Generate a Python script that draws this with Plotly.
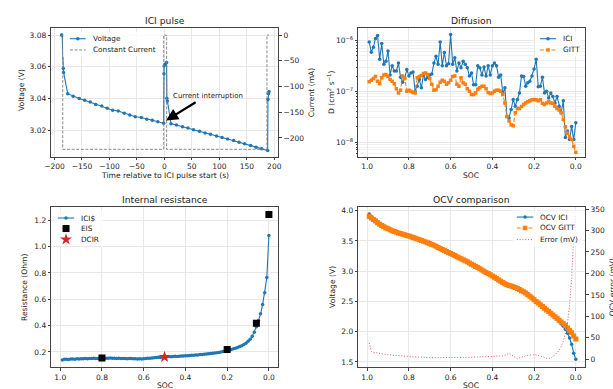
import plotly.graph_objects as go

W, H = 613, 389

# ---------------- data ----------------
# ICI pulse: voltage trace and applied current
T_PULSE = [-187, -186, -184, -183.5,
           -176, -166, -155, -145, -135, -125, -114, -104, -94, -84, -73, -63, -53, -42, -32, -22, -12, -1.3,
           -0.8, -0.5, 1.2, 4.0, 4.5, 5.5,
           12, 22, 33, 43, 53, 64, 74, 84, 95, 105, 115, 126, 136, 146, 157, 167, 177, 188,
           188.5, 189.5, 190.5]
V_PULSE = [3.0800, 3.0799, 3.0589, 3.0565,
           3.0431, 3.0415, 3.0400, 3.0390, 3.0378, 3.0363, 3.0353, 3.0339, 3.0326, 3.0322, 3.0308, 3.0297,
           3.0285, 3.0281, 3.0270, 3.0264, 3.0254, 3.0245,
           3.0556, 3.0605, 3.0617, 3.0627, 3.0402, 3.0385,
           3.0242, 3.0233, 3.0222, 3.0214, 3.0203, 3.0194, 3.0183, 3.0175, 3.0164, 3.0155, 3.0145, 3.0135,
           3.0125, 3.0115, 3.0104, 3.0094, 3.0083, 3.0072,
           3.0394, 3.0430, 3.0444]
T_CURRENT = [-187, -185, -185, -1.2, -1.2, 4.1, 4.1, 186.7, 186.7, 190.5]
I_CURRENT = [0, 0, -222, -222, 0, 0, -222, -222, 0, 0]

# state of charge grid shared by the SOC plots
SOC = [0.99, 0.98, 0.97, 0.96, 0.95, 0.94, 0.93, 0.92, 0.91, 0.90,
       0.89, 0.88, 0.87, 0.86, 0.85, 0.84, 0.83, 0.82, 0.81, 0.80,
       0.79, 0.78, 0.77, 0.76, 0.75, 0.74, 0.73, 0.72, 0.71, 0.70,
       0.69, 0.68, 0.67, 0.66, 0.65, 0.64, 0.63, 0.62, 0.61, 0.60,
       0.59, 0.58, 0.57, 0.56, 0.55, 0.54, 0.53, 0.52, 0.51, 0.50,
       0.49, 0.48, 0.47, 0.46, 0.45, 0.44, 0.43, 0.42, 0.41, 0.40,
       0.39, 0.38, 0.37, 0.36, 0.35, 0.34, 0.33, 0.32, 0.31, 0.30,
       0.29, 0.28, 0.27, 0.26, 0.25, 0.24, 0.23, 0.22, 0.21, 0.20,
       0.19, 0.18, 0.17, 0.16, 0.15, 0.14, 0.13, 0.12, 0.11, 0.10,
       0.09, 0.08, 0.07, 0.06, 0.05, 0.04, 0.03, 0.02, 0.01, 0.00]

# diffusion coefficients, in units of 1e-7 cm^2/s
D_ICI_1E7 = [9.3, 5.9, 7.4, 11.0, 12.6, 4.3, 8.7, 3.4, 3.9, 6.2,
             2.1, 3.2, 2.5, 2.5, 3.6, 1.9, 1.5, 1.8, 2.7, 2.0,
             2.3, 2.4, 1.0, 1.26, 1.7, 1.17, 2.1, 1.7, 1.9, 2.1,
             2.2, 3.6, 4.9, 3.4, 9.3, 3.2, 5.8, 3.2, 3.5, 13.2,
             3.4, 4.6, 2.5, 3.6, 2.9, 3.9, 3.4, 2.9, 2.0, 2.3,
             1.35, 1.35, 3.2, 2.9, 2.1, 3.0, 2.0, 3.2, 2.1, 3.2,
             3.6, 3.2, 1.9, 2.1, 0.93, 1.17, 0.32, 0.30, 0.44, 0.69,
             0.51, 0.69, 0.93, 2.0, 1.95, 1.26, 1.48, 1.58, 2.0, 2.75,
             4.3, 1.23, 1.26, 1.9, 0.93, 1.0, 0.74, 0.93, 0.79, 0.59,
             0.79, 0.51, 0.38, 0.65, 0.123, 0.166, 0.112, 0.204, 0.112, 0.24]
D_GITT_1E7 = [1.55, 1.66, 1.78, 1.95, 1.58, 1.41, 1.86, 2.09, 2.14, 1.95,
              1.70, 1.58, 1.41, 1.12, 0.93, 1.05, 2.0, 1.78, 1.0, 1.05,
              1.0, 0.95, 0.93, 1.86, 1.95, 2.04, 2.24, 2.29, 2.14, 1.78,
              1.38, 1.05, 1.07, 1.26, 1.51, 1.66, 1.58, 1.38, 1.48, 1.66,
              1.95, 2.0, 1.38, 1.26, 1.86, 1.48, 1.38, 1.12, 1.0, 0.87,
              0.87, 0.93, 1.10, 1.17, 1.26, 1.26, 1.12, 0.95, 0.91, 0.93,
              1.0, 1.05, 1.05, 1.0, 0.87, 0.59, 0.32, 0.26, 0.22, 0.21,
              0.38, 0.46, 0.46, 0.50, 0.55, 0.59, 0.62, 0.65, 0.68, 0.69,
              0.68, 0.65, 0.68, 0.58, 0.55, 0.59, 0.62, 0.59, 0.58, 0.51,
              0.46, 0.43, 0.38, 0.28, 0.20, 0.15, 0.126, 0.112, 0.083, 0.063]

# internal resistance (Ohm)
R_ICIS = [0.140, 0.144, 0.145, 0.143, 0.146, 0.147, 0.145, 0.148, 0.147, 0.149,
          0.148, 0.150, 0.149, 0.151, 0.150, 0.152, 0.150, 0.151, 0.153, 0.152,
          0.151, 0.153, 0.152, 0.154, 0.152, 0.153, 0.151, 0.152, 0.150, 0.151,
          0.150, 0.149, 0.151, 0.150, 0.148, 0.149, 0.147, 0.148, 0.147, 0.149,
          0.150, 0.152, 0.153, 0.155, 0.157, 0.158, 0.160, 0.159, 0.161, 0.162,
          0.163, 0.165, 0.164, 0.166, 0.167, 0.166, 0.168, 0.169, 0.170, 0.171,
          0.172, 0.173, 0.175, 0.176, 0.177, 0.178, 0.180, 0.181, 0.183, 0.184,
          0.186, 0.188, 0.190, 0.192, 0.195, 0.197, 0.200, 0.204, 0.208, 0.212,
          0.215, 0.219, 0.224, 0.229, 0.234, 0.241, 0.248, 0.256, 0.266, 0.281,
          0.296, 0.320, 0.350, 0.392, 0.440, 0.490, 0.560, 0.650, 0.765, 1.085]
SOC_EIS = [0.8, 0.2, 0.06, 0.0]
R_EIS = [0.155, 0.218, 0.419, 1.245]
SOC_DCIR = [0.5]
R_DCIR = [0.162]

# open-circuit voltage (V) and the difference between methods (mV)
OCV_ICI = [3.943, 3.898, 3.871, 3.845, 3.814, 3.788, 3.767, 3.746, 3.726, 3.710,
           3.695, 3.679, 3.666, 3.653, 3.641, 3.629, 3.618, 3.606, 3.596, 3.586,
           3.573, 3.561, 3.549, 3.537, 3.525, 3.512, 3.500, 3.488, 3.474, 3.460,
           3.445, 3.430, 3.413, 3.396, 3.379, 3.362, 3.345, 3.328, 3.311, 3.294,
           3.277, 3.260, 3.243, 3.226, 3.210, 3.193, 3.176, 3.158, 3.139, 3.120,
           3.102, 3.083, 3.064, 3.045, 3.025, 3.006, 2.986, 2.966, 2.946, 2.926,
           2.907, 2.885, 2.863, 2.841, 2.820, 2.781, 2.763, 2.751, 2.744, 2.735,
           2.725, 2.711, 2.698, 2.682, 2.665, 2.646, 2.621, 2.595, 2.568, 2.539,
           2.510, 2.481, 2.452, 2.422, 2.392, 2.362, 2.330, 2.301, 2.270, 2.238,
           2.205, 2.169, 2.130, 2.088, 2.040, 1.975, 1.895, 1.790, 1.645, 1.543]
OCV_GITT = [3.905, 3.880, 3.855, 3.830, 3.800, 3.775, 3.755, 3.735, 3.715, 3.700,
            3.685, 3.670, 3.657, 3.645, 3.633, 3.622, 3.611, 3.600, 3.590, 3.580,
            3.568, 3.556, 3.544, 3.532, 3.520, 3.508, 3.496, 3.484, 3.470, 3.456,
            3.442, 3.427, 3.410, 3.393, 3.376, 3.359, 3.342, 3.325, 3.308, 3.291,
            3.274, 3.257, 3.240, 3.223, 3.206, 3.189, 3.172, 3.154, 3.135, 3.116,
            3.097, 3.078, 3.059, 3.040, 3.020, 3.000, 2.980, 2.960, 2.940, 2.920,
            2.900, 2.878, 2.856, 2.834, 2.812, 2.790, 2.775, 2.765, 2.755, 2.742,
            2.728, 2.712, 2.695, 2.677, 2.658, 2.638, 2.612, 2.585, 2.557, 2.528,
            2.500, 2.472, 2.444, 2.416, 2.388, 2.360, 2.332, 2.304, 2.276, 2.248,
            2.220, 2.190, 2.160, 2.130, 2.100, 2.060, 2.020, 1.980, 1.930, 1.880]
ERR_MV = [38, 18, 16, 15, 14, 13, 12, 11.5, 11, 10.5,
          10, 9.5, 9, 8.5, 8, 7.5, 7, 6.5, 6, 6,
          5.5, 5.5, 5, 5, 5, 4.5, 4.5, 4, 4, 4,
          3.5, 3.5, 3.5, 3, 3, 3, 3, 3, 3, 3,
          3, 3.5, 3.5, 3.5, 4, 4, 4, 4.5, 4.5, 4.5,
          5, 5, 5, 5.5, 5.5, 6, 6, 6, 6.5, 6.5,
          7, 7, 7.5, 7.5, 8, 9, 12, 14, 11, 7,
          3, 1, 3, 5, 7, 8, 9, 10, 11, 11,
          10, 9, 8, 6, 4, 2, 1.5, 3, 6, 10,
          15, 21, 30, 42, 60, 85, 125, 190, 285, 337]

# ---------------- styling ----------------
BLUE = "#1f77b4"
ORANGE = "#ff7f0e"
RED = "#d62728"
RED_DOT = "rgba(214,39,40,0.75)"
GRAY = "#7a7a7a"
FONT = "DejaVu Sans"
TICK_FONT = dict(family=FONT, size=7.5, color="#262626")
LW = 1.1


def px(x):
    return x / W


def py(y):
    return 1 - y / H


def axis(**kw):
    base = dict(showline=True, linecolor="#444", linewidth=0.8, mirror=True,
                ticks="outside", ticklen=2.6, tickwidth=0.6, tickcolor="#444",
                tickfont=TICK_FONT, showgrid=True, gridcolor="#e8e8e8", gridwidth=0.6,
                zeroline=False, fixedrange=True)
    base.update(kw)
    return base


# panel boxes in pixels: (left, top, right, bottom)
TL = (45, 25, 276, 155)
TR = (357, 25, 588, 155)
BL = (45, 206, 276, 367)
BR = (357, 206, 588, 367)
SOC_RANGE = [1.043, -0.046]
SOC_TICKS = [1.0, 0.8, 0.6, 0.4, 0.2, 0.0]

fig = go.Figure()

# --- ICI pulse ---
fig.add_trace(go.Scatter(x=T_PULSE, y=V_PULSE, mode="lines+markers", xaxis="x", yaxis="y",
                         line=dict(color=BLUE, width=LW), marker=dict(size=3.5, color=BLUE)))
fig.add_trace(go.Scatter(x=T_CURRENT, y=I_CURRENT, mode="lines", xaxis="x", yaxis="y2",
                         line=dict(color=GRAY, width=0.9, dash="3px,1.6px")))

# --- Diffusion ---
D_ICI = [v * 1e-7 for v in D_ICI_1E7]
D_GITT = [v * 1e-7 for v in D_GITT_1E7]
fig.add_trace(go.Scatter(x=SOC, y=D_ICI, mode="lines+markers", xaxis="x2", yaxis="y3",
                         line=dict(color=BLUE, width=LW), marker=dict(size=3.5, color=BLUE)))
fig.add_trace(go.Scatter(x=SOC, y=D_GITT, mode="lines+markers", xaxis="x2", yaxis="y3",
                         line=dict(color=ORANGE, width=LW, dash="4px,1.8px"),
                         marker=dict(size=3.5, color=ORANGE, symbol="square")))

# --- Internal resistance ---
fig.add_trace(go.Scatter(x=SOC, y=R_ICIS, mode="lines+markers", xaxis="x3", yaxis="y4",
                         line=dict(color=BLUE, width=LW), marker=dict(size=3.5, color=BLUE)))
fig.add_trace(go.Scatter(x=SOC_EIS, y=R_EIS, mode="markers", xaxis="x3", yaxis="y4",
                         marker=dict(size=7, color="black", symbol="square")))
fig.add_trace(go.Scatter(x=SOC_DCIR, y=R_DCIR, mode="markers", xaxis="x3", yaxis="y4",
                         marker=dict(size=9, color=RED, symbol="star")))

# --- OCV comparison ---
fig.add_trace(go.Scatter(x=SOC, y=OCV_ICI, mode="lines+markers", xaxis="x4", yaxis="y5",
                         line=dict(color=BLUE, width=LW), marker=dict(size=3.5, color=BLUE)))
fig.add_trace(go.Scatter(x=SOC, y=OCV_GITT, mode="lines+markers", xaxis="x4", yaxis="y5",
                         line=dict(color=ORANGE, width=1.4, dash="4px,1.8px"),
                         marker=dict(size=5, color=ORANGE, symbol="square")))
fig.add_trace(go.Scatter(x=SOC, y=ERR_MV, mode="lines", xaxis="x4", yaxis="y6",
                         line=dict(color=RED_DOT, width=1, dash="1px,1.8px")))

# --- legend glyphs, drawn on a full-canvas pixel overlay ---
def box(l, t, r, b):
    fig.add_trace(go.Scatter(x=[l, r, r, l, l], y=[t, t, b, b, t], mode="lines", fill="toself",
                             fillcolor="rgba(255,255,255,0.8)", line=dict(width=0),
                             xaxis="x5", yaxis="y7"))


def handle(x0, x1, y, color=None, dash="solid", width=LW, symbol=None, msize=3.5, mcolor=None):
    if color is not None:
        fig.add_trace(go.Scatter(x=[x0, x1], y=[y, y], mode="lines", xaxis="x5", yaxis="y7",
                                 line=dict(color=color, width=width, dash=dash)))
    if symbol is not None:
        fig.add_trace(go.Scatter(x=[(x0 + x1) / 2], y=[y], mode="markers", xaxis="x5", yaxis="y7",
                                 marker=dict(size=msize, color=mcolor or color, symbol=symbol)))


box(57, 29, 156, 54)
handle(64, 80, 36, BLUE, symbol="circle")
handle(64, 80, 47.3, GRAY, dash="3px,1.6px", width=0.9)

box(537, 29, 585, 54)
handle(541.7, 558.3, 36, BLUE, symbol="circle")
handle(541.7, 558.3, 47.3, ORANGE, dash="4px,1.8px", symbol="square")

box(48, 209, 97, 245)
handle(51.7, 68.3, 216.7, BLUE, symbol="circle")
handle(51.7, 68.3, 227.3, None, symbol="square", msize=7, mcolor="black")
handle(51.7, 68.3, 238.3, None, symbol="star", msize=9, mcolor=RED)

box(514, 209, 585, 245)
handle(518.3, 535, 215.7, BLUE, symbol="circle")
handle(518.3, 535, 226.7, ORANGE, dash="4px,1.8px", symbol="square", msize=4.5)
handle(518.3, 535, 238.3, RED_DOT, dash="1px,1.8px", width=1)

# ---------------- text ----------------
def text(s, x, y, size=7.6, angle=0, xanchor="center"):
    return dict(text=s, x=px(x), y=py(y), xref="paper", yref="paper", showarrow=False,
                font=dict(family=FONT, size=size, color="#222"), textangle=angle,
                xanchor=xanchor, yanchor="middle")


annotations = [
    # titles
    text("ICI pulse", 160.5, 18, size=9.2),
    text("Diffusion", 472, 18, size=9.2),
    text("Internal resistance", 160.5, 198, size=9.2),
    text("OCV comparison", 472, 198.5, size=9.2),
    # axis labels
    text("Time relative to ICI pulse start (s)", 160.5, 173.5),
    text("Voltage (V)", 15, 88, angle=-90),
    text("Current (mA)", 309, 90, angle=-90),
    text("SOC", 472, 173.5),
    text("D (cm<sup>2</sup> s<sup>−1</sup>)", 330, 90, angle=-90),
    text("SOC", 160.5, 385),
    text("Resistance (Ohm)", 18, 286.5, angle=-90),
    text("SOC", 472, 385),
    text("Voltage (V)", 331.5, 286, angle=-90),
    text("OCV error (mV)", 615.5, 286, angle=-90),
    # legend entries
    text("Voltage", 85, 36, size=7.3, xanchor="left"),
    text("Constant Current", 85, 47.3, size=7.3, xanchor="left"),
    text("ICI", 563.3, 36, size=7.3, xanchor="left"),
    text("GITT", 563.3, 47.3, size=7.3, xanchor="left"),
    text("ICI$", 73.3, 216.7, size=7.3, xanchor="left"),
    text("EIS", 73.3, 227.3, size=7.3, xanchor="left"),
    text("DCIR", 73.3, 238.3, size=7.3, xanchor="left"),
    text("OCV ICI", 540, 215.7, size=7.3, xanchor="left"),
    text("OCV GITT", 540, 226.7, size=7.3, xanchor="left"),
    text("Error (mV)", 540, 238.3, size=7.3, xanchor="left"),
    # pulse annotation
    dict(text="", x=3.0, y=3.0262, xref="x", yref="y", ax=59.6, ay=3.0383, axref="x", ayref="y",
         showarrow=True, arrowhead=2, arrowsize=1.1, arrowwidth=2.2, arrowcolor="black"),
    dict(text="Current interruption", x=12.5, y=3.0414, xref="x", yref="y", showarrow=False,
         xanchor="left", yanchor="middle", font=dict(family=FONT, size=7, color="#222")),
]

LOG_MINOR = [k * 10.0 ** e for e in (-9, -8, -7, -6) for k in range(2, 10)]

fig.update_layout(
    width=W, height=H, margin=dict(l=0, r=0, t=0, b=0),
    paper_bgcolor="white", plot_bgcolor="rgba(0,0,0,0)", showlegend=False,
    font=dict(family=FONT, size=7.5, color="#222"),
    # ICI pulse
    xaxis=axis(domain=[px(TL[0]), px(TL[2])], anchor="y", range=[-205.9, 207.7],
               tickvals=[-200, -150, -100, -50, 0, 50, 100, 150, 200]),
    yaxis=axis(domain=[py(TL[3]), py(TL[1])], anchor="x", range=[3.0033, 3.0846],
               tickvals=[3.02, 3.04, 3.06, 3.08], tickformat=".2f"),
    yaxis2=axis(overlaying="y", side="right", anchor="x", range=[-236.6, 14.1],
                tickvals=[0, -50, -100, -150, -200], showgrid=False, mirror=False),
    # Diffusion
    xaxis2=axis(domain=[px(TR[0]), px(TR[2])], anchor="y3", range=SOC_RANGE,
                tickvals=SOC_TICKS, tickformat=".1f"),
    yaxis3=axis(domain=[py(TR[3]), py(TR[1])], anchor="x2", type="log", range=[-8.289, -5.75],
                tickvals=[1e-8, 1e-7, 1e-6],
                ticktext=["10<sup>−8</sup>", "10<sup>−7</sup>", "10<sup>−6</sup>"],
                minor=dict(tickvals=LOG_MINOR, ticks="outside", ticklen=1.5, tickwidth=0.5,
                           tickcolor="#444", showgrid=True, gridcolor="#f0f0f0", gridwidth=0.5)),
    # Internal resistance
    xaxis3=axis(domain=[px(BL[0]), px(BL[2])], anchor="y4", range=SOC_RANGE,
                tickvals=SOC_TICKS, tickformat=".1f"),
    yaxis4=axis(domain=[py(BL[3]), py(BL[1])], anchor="x3", range=[0.0847, 1.298],
                tickvals=[0.2, 0.4, 0.6, 0.8, 1.0, 1.2], tickformat=".1f"),
    # OCV comparison
    xaxis4=axis(domain=[px(BR[0]), px(BR[2])], anchor="y5", range=SOC_RANGE,
                tickvals=SOC_TICKS, tickformat=".1f"),
    yaxis5=axis(domain=[py(BR[3]), py(BR[1])], anchor="x4", range=[1.413, 4.054],
                tickvals=[1.5, 2.0, 2.5, 3.0, 3.5, 4.0], tickformat=".1f"),
    yaxis6=axis(overlaying="y5", side="right", anchor="x4", range=[-18.5, 353.9],
                tickvals=[0, 50, 100, 150, 200, 250, 300, 350], showgrid=False, mirror=False),
    # pixel overlay for legend glyphs
    xaxis5=dict(domain=[0, 1], range=[0, W], visible=False, anchor="y7", fixedrange=True),
    yaxis7=dict(domain=[0, 1], range=[H, 0], visible=False, anchor="x5", fixedrange=True),
    annotations=annotations,
)

fig.write_html("out.html")
